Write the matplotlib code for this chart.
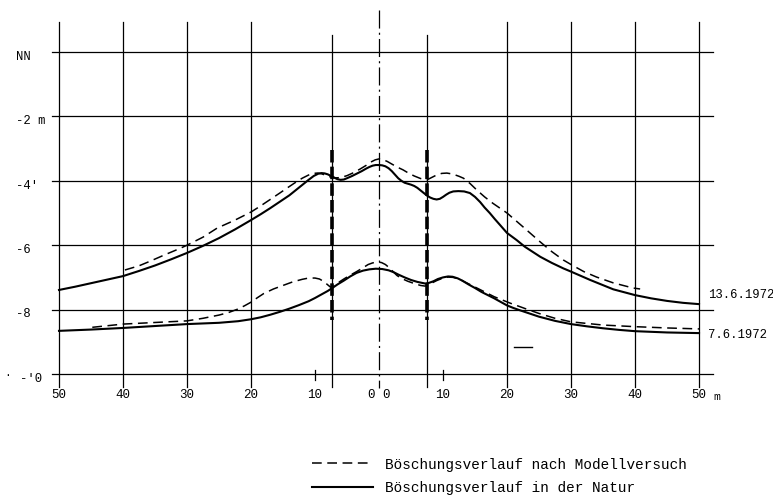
import matplotlib
matplotlib.use("Agg")
import matplotlib.pyplot as plt

plt.rcParams['font.family'] = ['Liberation Mono', 'DejaVu Sans Mono']
plt.rcParams['lines.scale_dashes'] = False

# ---------------- data ----------------
# 13.6.1972 - nature (solid)
x_nat_13 = [-50, -47.5, -45, -42.5, -40, -37.5, -35, -32.5, -30, -27.5, -25, -22.5, -20, -18.5, -17, -15.5,
            -14, -13, -12, -11, -10.2, -9.5, -9, -8.5, -8, -7.5, -7, -6.5, -6, -5.5, -5, -4.2, -3.5, -2.7,
            -2, -1.5, -1, -0.5, 0, 0.5, 1, 1.5, 2, 2.5, 3, 3.5, 4, 4.5, 5, 5.5, 6, 6.5, 7, 7.5, 8, 8.5, 9,
            9.5, 10, 10.5, 11, 11.6, 12.4, 13.3, 14.2, 15, 15.8, 16.5, 17.3, 18.1, 18.9, 20, 21.5, 22.8,
            25.2, 27, 28.8, 30, 33, 36.6, 40, 42.5, 45, 47.5, 50]
y_nat_13 = [-7.39, -7.29, -7.18, -7.07, -6.96, -6.80, -6.63, -6.44, -6.24, -6.02, -5.78, -5.51, -5.22, -5.04,
            -4.85, -4.65, -4.45, -4.29, -4.13, -3.97, -3.85, -3.78, -3.76, -3.77, -3.80, -3.85, -3.90, -3.95,
            -3.97, -3.96, -3.92, -3.85, -3.78, -3.70, -3.62, -3.57, -3.53, -3.51, -3.51, -3.52, -3.55, -3.61,
            -3.70, -3.81, -3.92, -4.00, -4.06, -4.09, -4.12, -4.16, -4.22, -4.30, -4.38, -4.46, -4.52, -4.56,
            -4.58, -4.56, -4.50, -4.43, -4.37, -4.33, -4.32, -4.33, -4.38, -4.50, -4.66, -4.83, -5.00, -5.19,
            -5.37, -5.62, -5.84, -6.05, -6.36, -6.55, -6.72, -6.82, -7.08, -7.37, -7.55, -7.65, -7.73, -7.79,
            -7.83]
# 13.6.1972 - model test (dashed)
x_mod_13 = [-39.7, -37.5, -35.8, -33.5, -31.1, -30, -27.5, -25.3, -22.5, -20, -18.5, -17, -15.5, -14.4,
            -13.2, -12, -11, -10.3, -9.6, -9, -8.3, -7.6, -6.8, -6, -5, -4, -3, -2, -1.3, -0.6, 0, 0.6,
            1.3, 2, 2.8, 3.75, 4.6, 5.5, 6.5, 7.5, 8.2, 9, 9.8, 10.6, 11.5, 12.5, 13.2, 14.2, 15.3, 16.5,
            17.8, 20, 22.5, 25.2, 27, 28.8, 30, 32, 34, 36.6, 39.7, 40.8]
y_mod_13 = [-6.77, -6.64, -6.50, -6.30, -6.10, -6.00, -5.75, -5.47, -5.22, -4.97, -4.78, -4.58, -4.38, -4.23,
            -4.07, -3.92, -3.82, -3.77, -3.76, -3.78, -3.83, -3.88, -3.91, -3.90, -3.84, -3.75, -3.64, -3.52,
            -3.42, -3.35, -3.32, -3.34, -3.40, -3.48, -3.57, -3.66, -3.76, -3.85, -3.93, -3.97, -3.90, -3.82,
            -3.77, -3.76, -3.79, -3.86, -3.92, -4.08, -4.29, -4.50, -4.70, -5.00, -5.43, -5.90, -6.20, -6.46,
            -6.60, -6.82, -6.99, -7.17, -7.33, -7.36]
# 7.6.1972 - nature (solid)
x_nat_7 = [-50, -45, -40, -35, -30, -25, -22, -20, -18.5, -17, -15.5, -14, -12.5, -11, -10, -9, -8, -7.3,
           -6.5, -5.5, -4.5, -3.5, -2.5, -1.5, -0.5, 0.5, 1.5, 2.3, 3, 4, 5, 6, 7.2, 7.8, 8.5, 9.2, 10,
           10.8, 11.5, 12.3, 13, 14, 15, 16, 17, 18, 19, 20, 21, 22, 23.5, 25, 27.5, 30, 32.5, 35, 37.5,
           40, 45, 50]
y_nat_7 = [-8.66, -8.62, -8.57, -8.51, -8.45, -8.41, -8.36, -8.30, -8.24, -8.16, -8.07, -7.97, -7.86, -7.74,
           -7.64, -7.53, -7.42, -7.33, -7.22, -7.10, -6.97, -6.86, -6.79, -6.75, -6.73, -6.74, -6.78, -6.84,
           -6.91, -7.00, -7.08, -7.14, -7.19, -7.17, -7.12, -7.05, -7.00, -6.97, -6.98, -7.03, -7.10, -7.22,
           -7.33, -7.45, -7.55, -7.65, -7.76, -7.87, -7.95, -8.02, -8.12, -8.22, -8.35, -8.45, -8.52, -8.58,
           -8.63, -8.67, -8.71, -8.73]
# 7.6.1972 - model test (dashed)
x_mod_7 = [-44.8, -40, -35, -30, -27.5, -25, -23.5, -22, -21, -20, -19, -18, -16.5, -15, -13.5, -12, -11,
           -10, -9.3, -8.7, -8.2, -7.6, -7.1, -6.5, -5.5, -4.5, -3.5, -2.5, -1.7, -1, -0.3, 0.4, 1, 1.6,
           2.2, 2.8, 3.5, 4.5, 5.5, 6.5, 7.2, 8, 9, 10, 10.8, 11.6, 12.5, 14, 16, 18, 20.5, 23, 25, 27.5,
           30, 35, 40, 45, 50]
y_mod_7 = [-8.55, -8.45, -8.40, -8.35, -8.27, -8.17, -8.09, -7.98, -7.88, -7.77, -7.63, -7.50, -7.36, -7.25,
           -7.14, -7.06, -7.02, -7.02, -7.05, -7.12, -7.20, -7.30, -7.28, -7.18, -7.05, -6.93, -6.82, -6.70,
           -6.60, -6.55, -6.52, -6.54, -6.60, -6.70, -6.82, -6.94, -7.03, -7.12, -7.19, -7.25, -7.27, -7.20,
           -7.10, -7.02, -6.99, -7.00, -7.05, -7.20, -7.40, -7.60, -7.80, -7.98, -8.12, -8.27, -8.38, -8.48,
           -8.53, -8.57, -8.60]

# stray short stroke in the drawing
x_stroke = [21.1, 23.9]
y_stroke = [-9.16, -9.16]

# axes / labels
y_levels = [0, -2, -4, -6, -8, -10]
y_labels = ['NN', '-2 m', '-4\'', '-6', '-8', '-\'0']
x_grid = [-50, -40, -30, -20, 20, 30, 40, 50]
x_short_ticks = [-10, 10]
x_tick_pos = [-50, -40, -30, -20, -10, 0, 10, 20, 30, 40, 50]
x_tick_lab = ['50', '40', '30', '20', '10', '0 0', '10', '20', '30', '40', '50']
x_limits_dunes = [-7.4, 7.45]
date_labels = ['13.6.1972', '7.6.1972']
date_label_y = [-7.55, -8.79]
legend_labels = ['Böschungsverlauf nach Modellversuch', 'Böschungsverlauf in der Natur']

# ---------------- figure ----------------
fig = plt.figure(figsize=(7.73, 4.97), dpi=100)
ax = fig.add_axes([0, 0, 1, 1])
ax.set_xlim(-59.22, 61.56)
ax.set_ylim(-13.82, 1.615)
ax.axis('off')

k = 'black'
# horizontal grid lines
for yl in y_levels:
    ax.plot([-51.1, 52.2], [yl, yl], color=k, lw=0.9, zorder=1)
# vertical grid lines
for xg in x_grid:
    ax.plot([xg, xg], [0.93, -10.4], color=k, lw=0.9, zorder=1)
# short ticks at 10 m
for xt in x_short_ticks:
    ax.plot([xt, xt], [-9.88, -10.2], color=k, lw=0.9, zorder=1)
# centre line (dash-dot)
ax.plot([0, 0], [1.3, -10.45], color=k, lw=0.9, dashes=(13, 3, 1.5, 3), zorder=1)
# dune limit lines: thin + thick dashed part
for xd in x_limits_dunes:
    ax.plot([xd, xd], [0.53, -10.4], color=k, lw=0.9, zorder=1)
    ax.plot([xd, xd], [-3.04, -8.32], color=k, lw=2.6, dashes=(9, 3), zorder=2)

# profiles
l_mod, = ax.plot(x_mod_13, y_mod_13, color=k, lw=1.1, dashes=(7, 4), zorder=3)
ax.plot(x_mod_7, y_mod_7, color=k, lw=1.1, dashes=(7, 4), zorder=3)
l_nat, = ax.plot(x_nat_13, y_nat_13, color=k, lw=1.5, zorder=4)
ax.plot(x_nat_7, y_nat_7, color=k, lw=1.5, zorder=4)
ax.plot(x_stroke, y_stroke, color=k, lw=1.0, zorder=3)

# y labels
for yl, lab in zip(y_levels, y_labels):
    ax.text(-56.7 if lab != '-\'0' else -56.1, yl - 0.15, lab, ha='left', va='center',
            fontsize=8.8, color=k)
ax.text(-58.0, -10.02, '·', ha='center', va='center', fontsize=8, color=k)

# x labels
for xp, lab in zip(x_tick_pos, x_tick_lab):
    ax.text(xp, -10.65, lab, ha='center', va='center', fontsize=9, color=k)
ax.text(52.8, -10.7, 'm', ha='center', va='center', fontsize=8, color=k)

# date labels
for lab, yy in zip(date_labels, date_label_y):
    ax.text(51.4, yy, lab, ha='left', va='center', fontsize=8.8, color=k)

# legend
leg = fig.legend([l_mod, l_nat], legend_labels, loc='upper left',
                 bbox_to_anchor=(312 / 773, 1 - 457.5 / 497), frameon=False,
                 fontsize=10.4, handlelength=4.24, handletextpad=0.83,
                 labelspacing=0.65, borderpad=0, borderaxespad=0)

fig.savefig('out.png', dpi=100)
